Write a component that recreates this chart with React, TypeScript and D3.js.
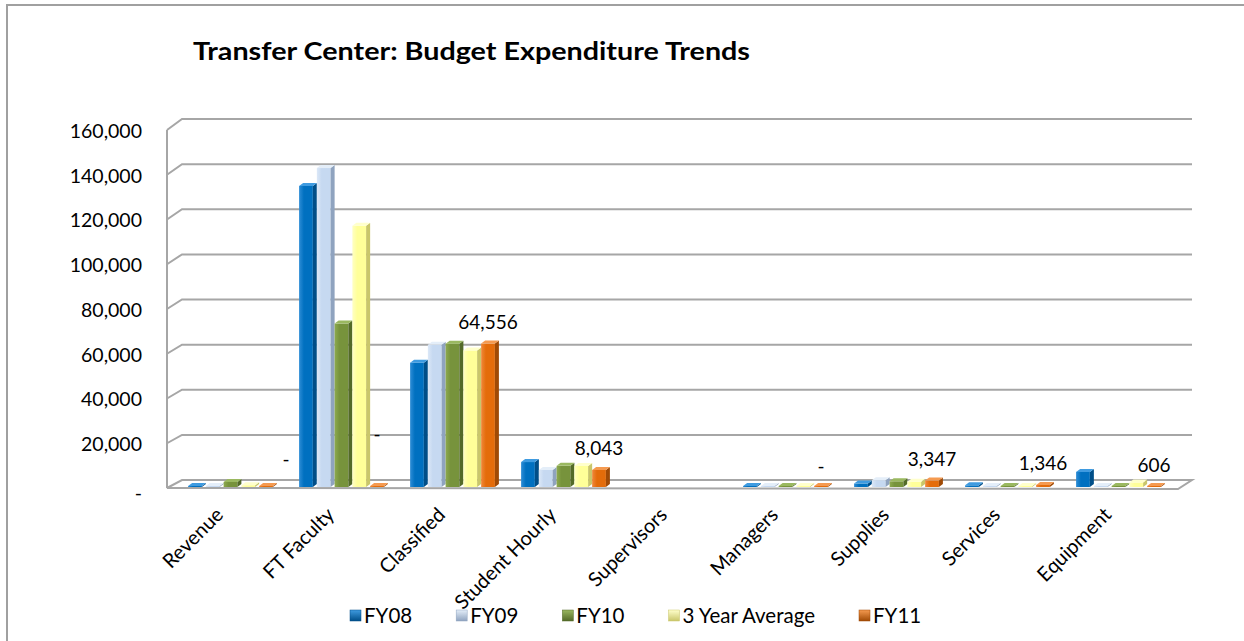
import React, { useEffect, useRef } from "react";
import * as d3 from "d3";

const categories = ["Revenue", "FT Faculty", "Classified", "Student Hourly", "Supervisors", "Managers", "Supplies", "Services", "Equipment"];
const seriesNames = ["FY08", "FY09", "FY10", "3 Year Average", "FY11"];

const fy08 = [500, 135000, 56000, 11600, null, 0, 2000, 1200, 7200];
const fy09 = [600, 143000, 64000, 8100, null, 0, 3500, 400, 200];
const fy10 = [2700, 73500, 64500, 9900, null, 0, 3000, 500, 0];
const avg3 = [1270, 117200, 61500, 9870, null, 0, 2830, 700, 2470];
const fy11 = [0, 0, 64556, 8043, null, 0, 3347, 1346, 606];
const fy11Labels = ["-", "-", "64,556", "8,043", "", "-", "3,347", "1,346", "606"];

const yTickValues = [0, 20000, 40000, 60000, 80000, 100000, 120000, 140000, 160000];
const yTickLabels = ["-", "20,000", "40,000", "60,000", "80,000", "100,000", "120,000", "140,000", "160,000"];

const title = "Transfer Center: Budget Expenditure Trends";

// label nudges (style, not data)
const labelNudgeX = [20, 0, 0, 0, 0, 0, 0, 0, 0];
const labelNudgeY = [-7, -32, 0, 0, 0, 0, 0, 0, 0];

const palette = [
  { base: "#0070C0", light: "#2E8DD6", dark: "#004E88", top: "#3F9BE0" },
  { base: "#C6D9F1", light: "#DCE8F7", dark: "#8FA3BF", top: "#E4EEF9" },
  { base: "#77933C", light: "#8DAA4F", dark: "#536A28", top: "#9AB860" },
  { base: "#FFFF99", light: "#FFFFC2", dark: "#C9C66A", top: "#FFFFCC" },
  { base: "#E46C0A", light: "#F0883A", dark: "#A04A05", top: "#F59A50" },
];

const FONT = "Lato, 'Open Sans', 'DejaVu Sans', sans-serif";

export default function App() {
  const ref = useRef<SVGSVGElement>(null);

  useEffect(() => {
    const svg = d3.select(ref.current);
    svg.selectAll("*").remove();

    const allSeries = [fy08, fy09, fy10, avg3, fy11];

    // geometry
    const frontLeft = 167;
    const backLeft = 182;
    const backRight = 1192;
    const frontRight = 1178;
    const yFront = d3.scaleLinear().domain([0, 160000]).range([488, 130]);
    const yBack = d3.scaleLinear().domain([0, 160000]).range([480, 119]);
    const x = d3.scaleBand<string>().domain(categories).range([177, 1176]).paddingInner(0.2).paddingOuter(0.1);
    const xs = d3.scaleBand<string>().domain(seriesNames).range([0, x.bandwidth()]).padding(0);
    const depthX = 4;
    const depthY = 3;

    const defs = svg.append("defs");
    palette.forEach((p, i) => {
      const g = defs.append("linearGradient").attr("id", `front${i}`).attr("x1", "0").attr("x2", "1").attr("y1", "0").attr("y2", "0");
      g.append("stop").attr("offset", "0").attr("stop-color", p.light);
      g.append("stop").attr("offset", "0.35").attr("stop-color", p.base);
      g.append("stop").attr("offset", "1").attr("stop-color", p.base);
      const lg = defs.append("linearGradient").attr("id", `leg${i}`).attr("x1", "0").attr("x2", "0").attr("y1", "0").attr("y2", "1");
      lg.append("stop").attr("offset", "0").attr("stop-color", p.top);
      lg.append("stop").attr("offset", "1").attr("stop-color", p.dark);
    });

    // border
    svg.append("path").attr("d", `M7,641 L7,5 L1244,5`).attr("fill", "none").attr("stroke", "#A0A0A0").attr("stroke-width", 2);

    // title
    svg.append("text")
      .attr("x", 193).attr("y", 60)
      .attr("font-family", FONT).attr("font-weight", 700).attr("font-size", 24)
      .attr("textLength", 557).attr("lengthAdjust", "spacingAndGlyphs")
      .attr("fill", "#000")
      .text(title);

    // walls: gridlines on back wall with slanted left edges
    const grid = svg.append("g");
    yTickValues.forEach((v) => {
      if (v === 0) return;
      grid.append("path")
        .attr("d", `M${frontLeft},${yFront(v)} L${backLeft},${yBack(v)} L${backRight},${yBack(v)}`)
        .attr("fill", "none").attr("stroke", "#A6A6A6").attr("stroke-width", 2);
    });
    // left wall vertical
    grid.append("line").attr("x1", frontLeft).attr("x2", frontLeft).attr("y1", yFront(160000)).attr("y2", yFront(0))
      .attr("stroke", "#A6A6A6").attr("stroke-width", 2);
    // floor
    grid.append("path")
      .attr("d", `M${frontLeft},${yFront(0)} L${frontRight},${yFront(0) + 1} L${backRight},${yBack(0)} L${backLeft},${yBack(0)} Z`)
      .attr("fill", "#fff").attr("stroke", "#A6A6A6").attr("stroke-width", 2);

    // y labels
    const yl = svg.append("g");
    yTickValues.forEach((v, i) => {
      yl.append("text")
        .attr("x", 142).attr("y", yFront(v) + (i === 0 ? 5 : 1))
        .attr("dy", "0.35em")
        .attr("text-anchor", "end")
        .attr("font-family", FONT).attr("font-size", 19.5).attr("fill", "#000")
        .text(yTickLabels[i]);
    });

    // bars
    const bars = svg.append("g");
    categories.forEach((c, ci) => {
      allSeries.forEach((arr, si) => {
        const v = arr[ci];
        if (v === null || v === undefined) return;
        const p = palette[si];
        const x0 = (x(c) as number) + (xs(seriesNames[si]) as number);
        const x1 = x0 + xs.bandwidth() - depthX;
        const yb = yFront(0) - 1;
        const yt = Math.min(yFront(v as number), yb - 1);
        bars.append("rect")
          .attr("x", x0).attr("y", yt).attr("width", x1 - x0).attr("height", yb - yt)
          .attr("fill", `url(#front${si})`);
        bars.append("path")
          .attr("d", `M${x1},${yt} L${x1 + depthX},${yt - depthY} L${x1 + depthX},${yb - depthY} L${x1},${yb} Z`)
          .attr("fill", p.dark);
        bars.append("path")
          .attr("d", `M${x0},${yt} L${x0 + depthX},${yt - depthY} L${x1 + depthX},${yt - depthY} L${x1},${yt} Z`)
          .attr("fill", p.top);
      });
    });

    // data labels for FY11
    const dl = svg.append("g");
    categories.forEach((c, ci) => {
      const lab = fy11Labels[ci];
      if (!lab) return;
      const v = fy11[ci] as number;
      const cx = (x(c) as number) + (xs("FY11") as number) + (xs.bandwidth() - depthX) / 2;
      dl.append("text")
        .attr("x", cx + labelNudgeX[ci])
        .attr("y", yFront(v) - 15 + labelNudgeY[ci])
        .attr("text-anchor", "middle")
        .attr("font-family", FONT).attr("font-size", 19).attr("fill", "#000")
        .text(lab);
    });

    // category labels
    const cl = svg.append("g");
    categories.forEach((c) => {
      const cx = (x(c) as number) + x.bandwidth() / 2 - 8;
      cl.append("text")
        .attr("transform", `translate(${cx},${516}) rotate(-45)`)
        .attr("text-anchor", "end")
        .attr("font-family", FONT).attr("font-size", 20).attr("fill", "#000")
        .text(c);
    });

    // legend
    const lg = svg.append("g");
    let lx = 350;
    const ly = 616;
    seriesNames.forEach((s, i) => {
      lg.append("rect").attr("x", lx).attr("y", ly - 6).attr("width", 11).attr("height", 11)
        .attr("fill", `url(#leg${i})`).attr("stroke", palette[i].dark).attr("stroke-width", 0.5);
      const t = lg.append("text")
        .attr("x", lx + 14).attr("y", ly).attr("dy", "0.35em")
        .attr("font-family", FONT).attr("font-size", 20.5).attr("fill", "#000")
        .text(s);
      const w = (t.node() as SVGTextElement).getComputedTextLength();
      lx += 14 + w + 44;
    });
  }, []);

  return (
    <svg
      ref={ref}
      width={1244}
      height={641}
      style={{ position: "absolute", left: 0, top: 0, background: "#fff" }}
    />
  );
}
